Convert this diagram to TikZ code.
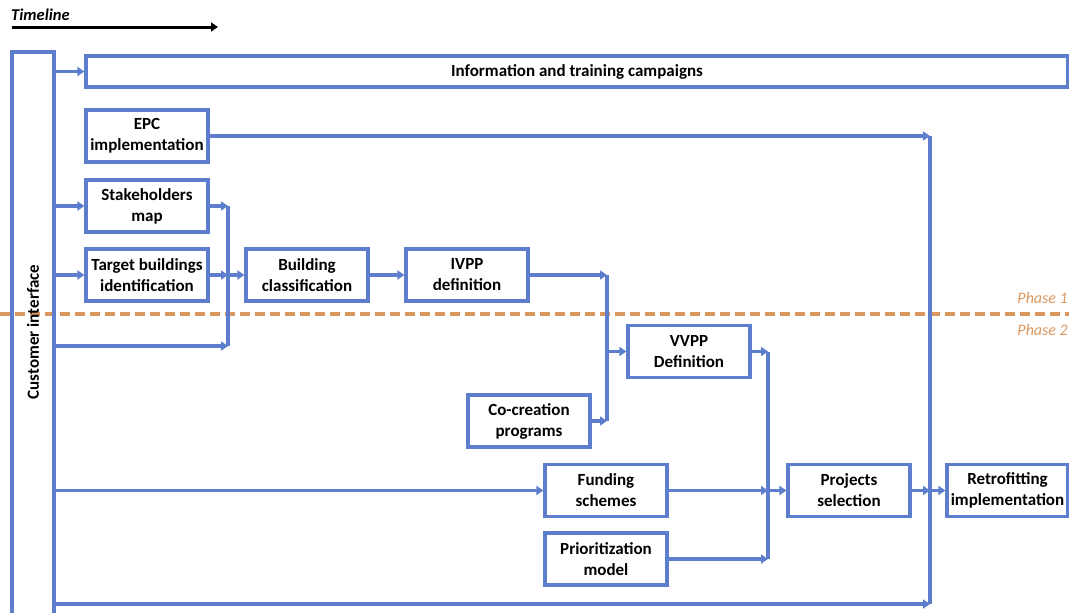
\documentclass[tikz,border=0pt]{standalone}
\usepackage{fontspec}
\setmainfont{Carlito}
\usetikzlibrary{arrows.meta}
\definecolor{flowblue}{RGB}{92,126,204}
\definecolor{phaseorange}{RGB}{218,152,96}
\begin{document}
\begin{tikzpicture}[x=1pt,y=-1pt,
  box/.style={draw=flowblue,line width=3.2pt,fill=white,minimum width=122pt,minimum height=52pt,
    align=center,inner sep=1pt,font=\fontsize{17}{21}\selectfont\bfseries},
  link/.style={draw=flowblue,line width=3.2pt},
  arr/.style={link,-{Triangle[length=7pt,width=9pt]}},
  phase/.style={text=phaseorange,font=\fontsize{16}{18}\selectfont\itshape,anchor=east,inner sep=0pt}]
\useasboundingbox (0,0) rectangle (1069,613);

% phase boundary
\draw[phaseorange,line width=3.2pt,dash pattern=on 10pt off 5pt] (0,314) -- (1069,314);
\node[phase] (ph1) at (1068,298) {Phase 1};
\node[phase] (ph2) at (1068,330) {Phase 2};

% timeline
\node[anchor=west,inner sep=0pt,font=\fontsize{16.5}{18}\selectfont\bfseries\itshape] (tl) at (11,15) {Timeline};
\coordinate (tlA) at (12,27);
\coordinate (tlB) at (218,27);
\draw[line width=3pt,-{Triangle[length=7pt,width=9pt]}] (tlA) -- (tlB);

% customer interface column (open at the bottom)
\node[draw=flowblue,line width=3.2pt,minimum width=42pt,minimum height=600pt,inner sep=0pt] (ci) at (33,352) {};
\node[rotate=90,font=\fontsize{17}{20}\selectfont\bfseries] (citext) at (33,332) {Customer interface};

% boxes
\node[box,minimum width=982pt,minimum height=31pt] (info) at (577,71.5) {Information and training campaigns};
\node[box] (epc) at (147,136) {EPC\\implementation};
\node[box] (stake) at (147,206) {Stakeholders\\map};
\node[box] (target) at (147,275) {Target buildings\\identification};
\node[box] (bc) at (307,275) {Building\\classification};
\node[box] (ivpp) at (467,275) {IVPP\\definition};
\node[box] (cocr) at (529,421) {Co-creation\\programs};
\node[box] (vvpp) at (689,351.5) {VVPP\\Definition};
\node[box] (fund) at (606,490.5) {Funding\\schemes};
\node[box] (prio) at (606,559) {Prioritization\\model};
\node[box] (proj) at (849,490.5) {Projects\\selection};
\node[box,minimum width=121pt] (retro) at (1007.5,490.5) {Retrofitting\\implementation};

% junction points
\coordinate (jA1) at (228,206);
\coordinate (jA2) at (228,346);
\coordinate (jB1) at (607,275);
\coordinate (jB2) at (607,421);
\coordinate (jC1) at (768,351.5);
\coordinate (jC2) at (768,559);
\coordinate (jD1) at (930,136);
\coordinate (jD2) at (930,604);

% collector bars
\draw[link] (jA1) -- (jA2);
\draw[link] (jB1) -- (jB2);
\draw[link] (jC1) -- (jC2);
\draw[link] (jD1) -- (jD2);

% from the customer interface
\draw[arr] (ci.east |- info.west) -- (info.west);
\draw[arr] (ci.east |- stake.west) -- (stake.west);
\draw[arr] (ci.east |- target.west) -- (target.west);
\draw[arr] (ci.east |- jA2) -- (jA2);
\draw[arr] (ci.east |- fund.west) -- (fund.west);
\draw[arr] (ci.east |- jD2) -- (jD2);

% phase 1 flow
\draw[arr] (epc.east) -- (jD1);
\draw[arr] (stake.east) -- (jA1);
\draw[arr] (target.east) -- (target.east -| jA1);
\draw[arr] (jA1 |- bc.west) -- (bc.west);
\draw[arr] (bc.east) -- (ivpp.west);
\draw[arr] (ivpp.east) -- (jB1);

% phase 2 flow
\draw[arr] (cocr.east) -- (jB2);
\draw[arr] (jB1 |- vvpp.west) -- (vvpp.west);
\draw[arr] (vvpp.east) -- (jC1);
\draw[arr] (fund.east) -- (fund.east -| jC1);
\draw[arr] (prio.east) -- (jC2);
\draw[arr] (jC1 |- proj.west) -- (proj.west);
\draw[arr] (proj.east) -- (proj.east -| jD1);
\draw[arr] (jD1 |- retro.west) -- (retro.west);
\end{tikzpicture}
\end{document}
